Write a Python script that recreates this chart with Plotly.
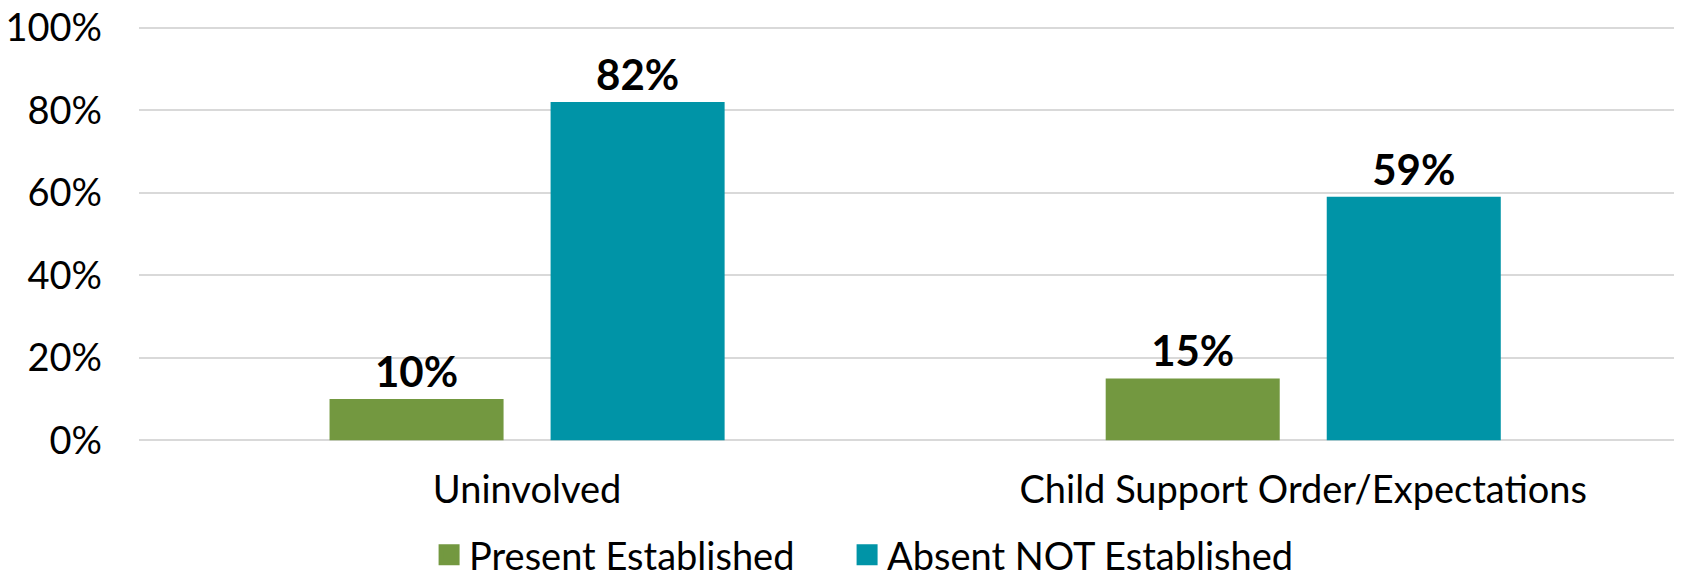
import plotly.graph_objects as go

categories = ["Uninvolved", "Child Support Order/Expectations"]
series_names = ["Present Established", "Absent NOT Established"]
present_values = [10, 15]
absent_values = [82, 59]
y_ticks = [0, 20, 40, 60, 80, 100]
y_tick_labels = ["0%", "20%", "40%", "60%", "80%", "100%"]

colors = ["#739840", "#0094A7"]
legend_ids = ["legend", "legend2"]
FONT = "Lato"

fig = go.Figure()
for name, vals, col, lg in zip(series_names, [present_values, absent_values], colors, legend_ids):
    fig.add_trace(go.Bar(
        x=categories, y=vals, name=name,
        marker=dict(color=col, line=dict(width=14, color="rgba(0,0,0,0)")),
        text=[f"{v}%" for v in vals],
        textposition="outside",
        textfont=dict(family=FONT, size=42, color="#000000", weight="bold"),
        cliponaxis=False,
        showlegend=False,
    ))
    # legend entry with larger square marker
    fig.add_trace(go.Scatter(
        x=[None], y=[None], mode="markers", name=name, legend=lg,
        marker=dict(symbol="square", size=20, color=col,
                    line=dict(color=col, width=5)),
        showlegend=True,
    ))

# page body has an 8px default margin; compensate so the chart fills the window
W, H = 1674, 564
ml, mr, mt, mb = 131, 0, 18, 130

legend_font = dict(family=FONT, size=38, color="#000000")
fig.update_layout(
    width=W, height=H,
    margin=dict(l=ml, r=mr, t=mt, b=mb, pad=0, autoexpand=False),
    paper_bgcolor="white", plot_bgcolor="white",
    barmode="group", bargap=0.4304, bargroupgap=0.2127,
    font=dict(family=FONT, size=38, color="#000000"),
    xaxis=dict(range=[-0.5, 1.488], showgrid=False, zeroline=False,
               showline=False, ticks="", ticklabelstandoff=22, automargin=False,
               tickfont=dict(family=FONT, size=38, color="#000000")),
    yaxis=dict(range=[-0.4, 100.4], tickvals=y_ticks, ticktext=y_tick_labels,
               showgrid=True, gridcolor="#D9D9D9", gridwidth=2,
               zeroline=False, showline=False, ticks="", automargin=False,
               ticklabelstandoff=36, ticklabeloverflow="allow",
               tickfont=dict(family=FONT, size=38, color="#000000")),
    legend=dict(orientation="h", x=0.188, xanchor="left", y=-0.196, yanchor="top",
                font=legend_font, bgcolor="rgba(0,0,0,0)"),
    legend2=dict(orientation="h", x=0.4589, xanchor="left", y=-0.196, yanchor="top",
                 font=legend_font, bgcolor="rgba(0,0,0,0)"),
    showlegend=True,
)

fig.write_html("out.html")
